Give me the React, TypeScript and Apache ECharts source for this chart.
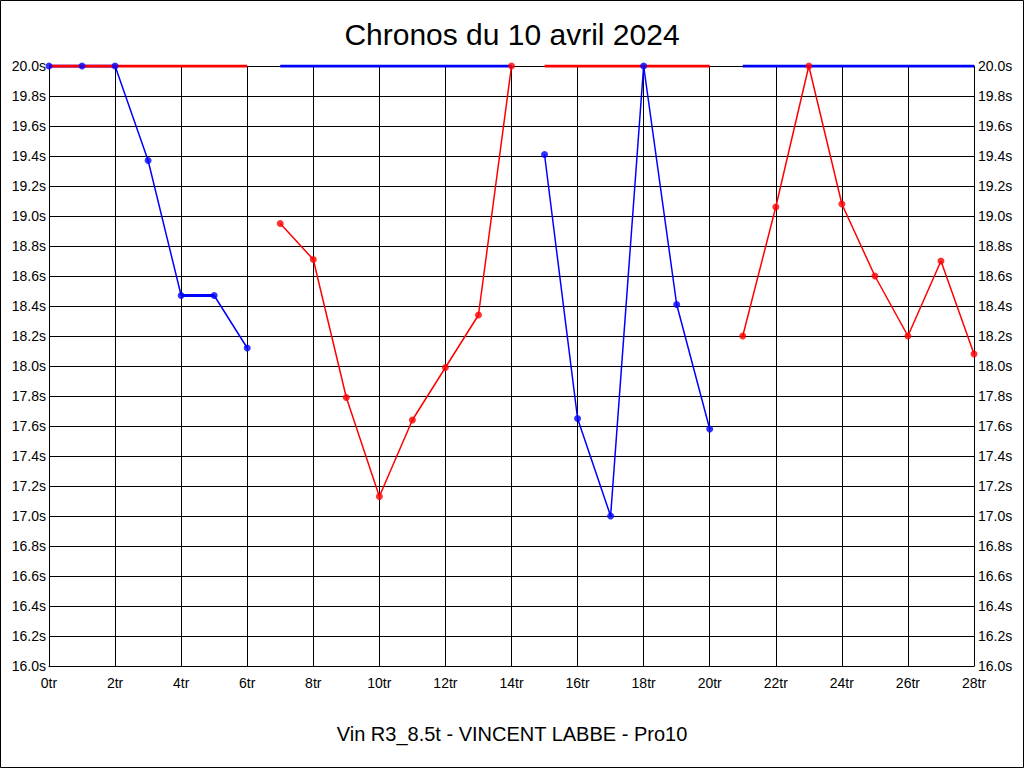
import React, { useEffect, useRef } from "react";
import * as echarts from "echarts";

const TITLE = "Chronos du 10 avril 2024";
const SUBTITLE = "Vin R3_8.5t - VINCENT LABBE - Pro10";

// lap index -> lap time (s); null = lap not driven by this car
const laps: number[] = Array.from({ length: 29 }, (_, i) => i);
const blueTimes: (number | null)[] = [
  20.0, 20.0, 20.0, 19.37, 18.47, 18.47, 18.12,
  null, null, null, null, null, null, null, null,
  19.41, 17.65, 17.0, 20.0, 18.41, 17.58,
  null, null, null, null, null, null, null, null,
];
const redTimes: (number | null)[] = [
  null, null, null, null, null, null, null,
  18.95, 18.71, 17.79, 17.13, 17.64, 17.99, 18.34, 20.0,
  null, null, null, null, null, null,
  18.2, 19.06, 20.0, 19.08, 18.6, 18.2, 18.7, 18.08,
];
// idle stints shown as bars at the top of the scale
const redIdle: [number, number][] = [[0, 6], [15, 20]];
const blueIdle: [number, number][] = [[7, 14], [21, 28]];

const Y_MIN = 16.0;
const Y_MAX = 20.0;
const BLUE = "#0000ff";
const RED = "#ff0000";
const FONT = "Liberation Sans, Arial, sans-serif";

function toPairs(vals: (number | null)[]) {
  return vals.map((v, i) => [laps[i], v]);
}
function flatSegments(vals: (number | null)[]) {
  const out: any[] = [];
  for (let i = 0; i < vals.length - 1; i++) {
    if (vals[i] != null && vals[i] === vals[i + 1]) {
      out.push([laps[i], vals[i]], [laps[i + 1], vals[i + 1]], [laps[i + 1], null]);
    }
  }
  return out;
}
function idleSegments(ranges: [number, number][]) {
  const out: any[] = [];
  ranges.forEach(([a, b]) => {
    out.push([a, Y_MAX], [b, Y_MAX], [b, null]);
  });
  return out;
}

export default function App() {
  const ref = useRef<HTMLDivElement>(null);
  useEffect(() => {
    document.body.style.margin = "0";
    const chart = echarts.init(ref.current!, null, { renderer: "svg" });
    const lineSeries = (name: string, data: any[], color: string, width: number, z: number) => ({
      name,
      type: "line",
      data,
      showSymbol: false,
      symbol: "none",
      connectNulls: false,
      lineStyle: { color, width },
      z,
      yAxisIndex: 0,
    });
    const markers = (name: string, vals: (number | null)[], color: string) => ({
      name,
      type: "scatter",
      data: toPairs(vals).filter((p) => p[1] != null),
      symbol: "circle",
      symbolSize: 7,
      itemStyle: { color },
      z: 5,
      yAxisIndex: 0,
    });
    chart.setOption({
      animation: false,
      backgroundColor: "#ffffff",
      title: [
        {
          text: TITLE,
          left: "center",
          top: 14,
          textStyle: { fontFamily: FONT, fontSize: 30, fontWeight: "normal", color: "#000" },
        },
        {
          text: SUBTITLE,
          left: "center",
          top: 719,
          textStyle: { fontFamily: FONT, fontSize: 20, fontWeight: "normal", color: "#000" },
        },
      ],
      graphic: [
        {
          type: "rect",
          shape: { x: 0.5, y: 0.5, width: 1023, height: 767 },
          style: { fill: "none", stroke: "#000", lineWidth: 1 },
          silent: true,
        },
      ],
      grid: { left: 49, right: 50, top: 66, bottom: 102, containLabel: false },
      xAxis: {
        type: "value",
        min: 0,
        max: 28,
        interval: 2,
        axisLine: { show: true, lineStyle: { color: "#000", width: 1 } },
        axisTick: { show: false },
        splitLine: { show: true, lineStyle: { color: "#000", width: 1 } },
        axisLabel: {
          formatter: (v: number) => `${v}tr`,
          fontFamily: FONT,
          fontSize: 14,
          color: "#000",
          margin: 10,
        },
      },
      yAxis: [
        {
          type: "value",
          min: Y_MIN,
          max: Y_MAX,
          interval: 0.2,
          position: "left",
          axisLine: { show: true, lineStyle: { color: "#000", width: 1 } },
          axisTick: { show: false },
          splitLine: { show: true, lineStyle: { color: "#000", width: 1 } },
          axisLabel: {
            formatter: (v: number) => `${v.toFixed(1)}s`,
            fontFamily: FONT,
            fontSize: 14,
            color: "#000",
            margin: 3,
          },
        },
        {
          type: "value",
          min: Y_MIN,
          max: Y_MAX,
          interval: 0.2,
          position: "right",
          axisLine: { show: true, lineStyle: { color: "#000", width: 1 } },
          axisTick: { show: false },
          splitLine: { show: false },
          axisLabel: {
            formatter: (v: number) => `${v.toFixed(1)}s`,
            fontFamily: FONT,
            fontSize: 14,
            color: "#000",
            margin: 4,
          },
        },
      ],
      series: [
        lineSeries("blue", toPairs(blueTimes), BLUE, 1.5, 2),
        lineSeries("red", toPairs(redTimes), RED, 1.5, 2),
        lineSeries("blueFlat", flatSegments(blueTimes), BLUE, 3, 2),
        lineSeries("redFlat", flatSegments(redTimes), RED, 3, 2),
        lineSeries("redIdle", idleSegments(redIdle), RED, 3, 3),
        lineSeries("blueIdle", idleSegments(blueIdle), BLUE, 3, 3),
        markers("blueM", blueTimes, BLUE),
        markers("redM", redTimes, RED),
      ],
    });
    return () => chart.dispose();
  }, []);
  return (
    <div
      ref={ref}
      style={{ position: "absolute", left: 0, top: 0, width: 1024, height: 768 }}
    />
  );
}
